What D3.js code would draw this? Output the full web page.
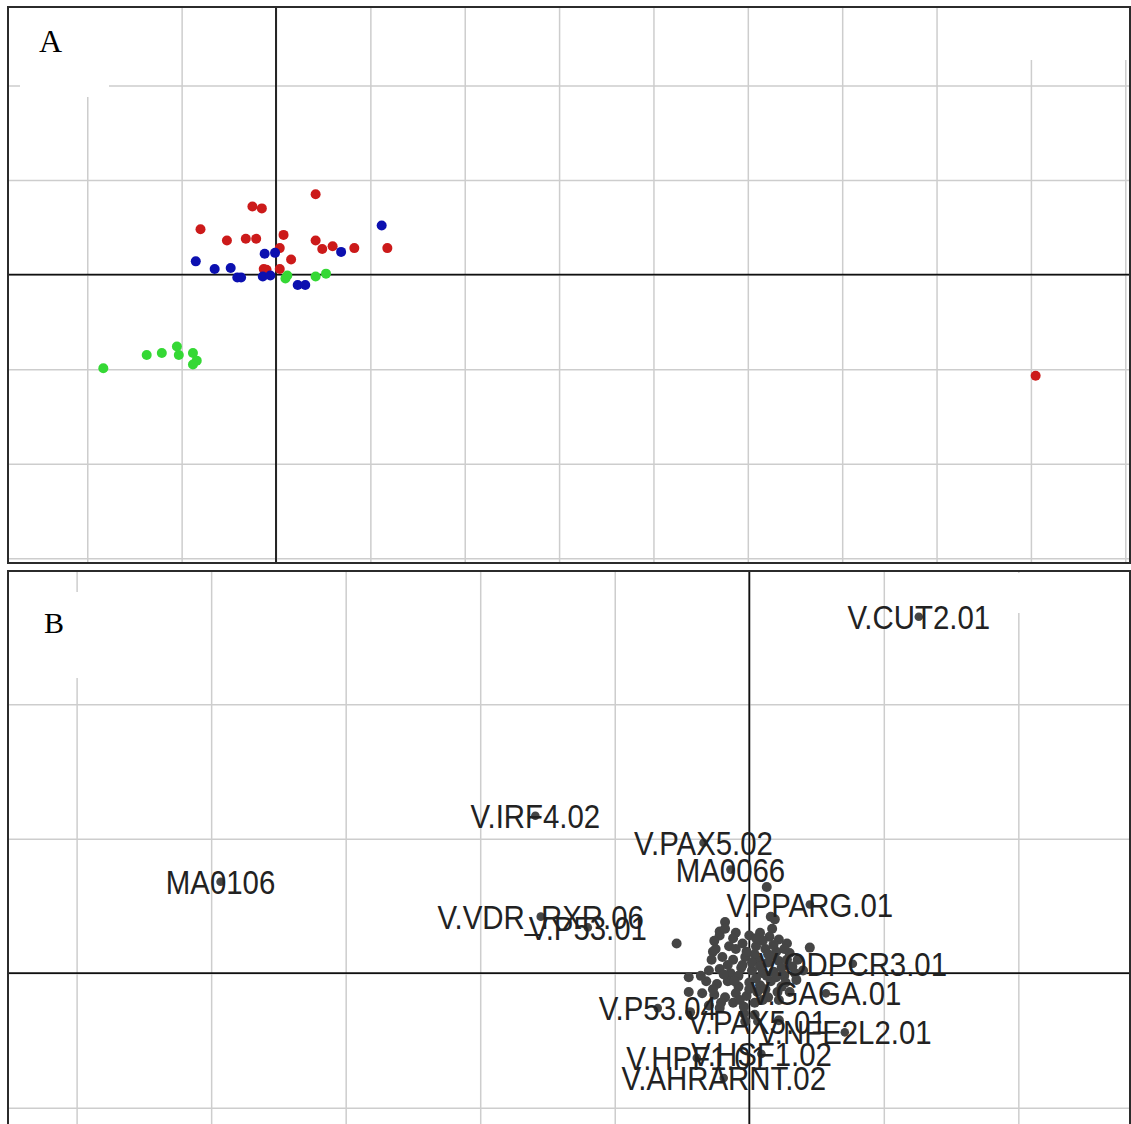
<!DOCTYPE html>
<html>
<head>
<meta charset="utf-8">
<script src="https://cdn.jsdelivr.net/npm/d3@7"></script>
<style>
  body { margin: 0; background: #fff; }
  svg { display: block; }
</style>
</head>
<body>
<div id="chart-container"></div>
<script>
// Panel A: sample scores, one array per group ([x, y] in axis units)
const redPoints = [
  [0.42, 0.85], [-0.25, 0.72], [-0.15, 0.70], [-0.80, 0.48], [-0.52, 0.36],
  [-0.32, 0.38], [-0.21, 0.38], [0.08, 0.42], [0.42, 0.36], [0.04, 0.28],
  [0.49, 0.27], [0.60, 0.30], [0.83, 0.28], [1.18, 0.28], [0.16, 0.16],
  [-0.13, 0.06], [-0.10, 0.05], [0.04, 0.06], [8.05, -1.07]
];
const bluePoints = [
  [1.12, 0.52], [-0.12, 0.22], [-0.01, 0.23], [0.69, 0.24], [-0.85, 0.14],
  [-0.65, 0.06], [-0.48, 0.07], [-0.41, -0.03], [-0.37, -0.03], [-0.14, -0.02],
  [-0.06, -0.01], [0.23, -0.11], [0.31, -0.11]
];
const greenPoints = [
  [0.10, -0.04], [0.12, -0.01], [0.42, -0.02], [0.53, 0.01], [-1.83, -0.99],
  [-1.37, -0.85], [-1.21, -0.83], [-1.05, -0.76], [-1.03, -0.85], [-0.88, -0.83],
  [-0.84, -0.91], [-0.88, -0.95]
];
const aTicksX = [-2, -1, 0, 1, 2, 3, 4, 5, 6, 7, 8, 9];
const aTicksY = [-3, -2, -1, 0, 1, 2];

// Panel B: labelled motifs
const motifNames = [
  "V.CUT2.01", "V.IRF4.02", "V.PAX5.02", "MA0066", "V.PPARG.01", "MA0106",
  "V.VDR_RXR.06", "V.P53.01", "V.ODPCR3.01", "V.GAGA.01", "V.P53.04",
  "V.PAX5.01", "V.NFE2L2.01", "V.HSF1.02", "V.HPF1.01", "V.AHRARNT.02"
];
const motifX = [1.26, -1.59, -0.34, -0.14, 0.45, -3.93, -1.55, -1.20, 0.77, 0.57, -0.68, 0.06, 0.71, 0.09, -0.39, -0.19];
const motifY = [2.65, 1.17, 0.97, 0.77, 0.51, 0.68, 0.42, 0.34, 0.07, -0.15, -0.26, -0.36, -0.44, -0.60, -0.63, -0.78];

// Panel B: unlabelled motifs (mostly the dense cloud near the origin)
const otherMotifs = [
  [0.13, 0.64], [-0.18, 0.38], [-0.22, 0.31], [-0.54, 0.22], [-0.27, 0.16],
  [0.16, 0.42], [0.19, 0.40], [0.17, 0.33], [0.45, 0.19], [-0.45, -0.03],
  [-0.45, -0.14], [-0.44, -0.29], [-0.04, -0.30], [0.04, -0.31], [0.22, -0.35],
  [-0.22, 0.28], [-0.18, 0.33], [-0.10, 0.30], [0.00, 0.28], [0.08, 0.30],
  [0.15, 0.27], [0.22, 0.25], [0.28, 0.22], [-0.25, 0.18], [-0.15, 0.20],
  [-0.05, 0.22], [0.05, 0.20], [0.12, 0.18], [0.20, 0.16], [0.30, 0.15],
  [0.36, 0.10], [-0.28, 0.10], [-0.20, 0.12], [-0.12, 0.10], [-0.03, 0.12],
  [0.06, 0.10], [0.14, 0.08], [0.22, 0.09], [0.32, 0.05], [0.40, 0.02],
  [-0.30, 0.02], [-0.22, 0.03], [-0.14, 0.00], [-0.06, 0.04], [0.02, 0.02],
  [0.10, 0.00], [0.18, 0.01], [0.26, -0.02], [0.35, -0.05], [-0.32, -0.06],
  [-0.24, -0.08], [-0.16, -0.06], [-0.08, -0.10], [0.00, -0.07], [0.08, -0.09],
  [0.16, -0.06], [0.24, -0.10], [0.30, -0.14], [-0.35, -0.15], [-0.26, -0.16],
  [-0.18, -0.18], [-0.10, -0.15], [-0.02, -0.17], [0.06, -0.14], [0.14, -0.18],
  [0.22, -0.20], [-0.30, -0.24], [-0.22, -0.26], [-0.12, -0.22], [-0.04, -0.25],
  [0.04, -0.22], [-0.05, 0.06], [0.04, 0.14], [-0.16, 0.06], [0.10, 0.24],
  [0.18, 0.13], [-0.08, -0.02], [0.12, -0.12], [0.20, -0.03], [-0.03, -0.36],
  [0.02, 0.08], [0.08, 0.05], [0.14, 0.14], [0.24, 0.04], [0.28, 0.10],
  [-0.10, 0.18], [-0.02, 0.16], [0.26, 0.18], [0.34, 0.00], [-0.19, -0.01],
  [-0.11, -0.06], [0.05, -0.04], [0.13, -0.02], [0.21, -0.14], [0.27, -0.07],
  [-0.27, -0.12], [-0.21, -0.22], [-0.07, -0.20], [0.00, -0.12], [0.10, -0.20],
  [-0.26, 0.24], [-0.12, 0.26], [0.05, 0.26], [0.18, 0.21], [-0.36, -0.02]
];
const bTicksX = [-5, -4, -3, -2, -1, 0, 1, 2];
const bTicksY = [-1, 0, 1, 2];

const width = 1131;
const height = 1124;

const svg = d3.select("#chart-container")
  .append("svg")
  .attr("width", width)
  .attr("height", height);

svg.append("rect").attr("width", width).attr("height", height).attr("fill", "#fff");

// panel boxes in pixels
const boxA = { left: 8, right: 1130, top: 7, bottom: 563 };
const boxB = { left: 8, right: 1130, top: 571, bottom: 1148 };

const xA = d3.scaleLinear().domain([-2.84, 9.05]).range([boxA.left, boxA.right]);
const yA = d3.scaleLinear().domain([-3.05, 2.83]).range([boxA.bottom, boxA.top]);
const xB = d3.scaleLinear().domain([-5.51, 2.83]).range([boxB.left, boxB.right]);
const yB = d3.scaleLinear().domain([-1.3, 2.99]).range([boxB.bottom, boxB.top]);

svg.append("defs").append("clipPath").attr("id", "clipB")
  .append("rect")
  .attr("x", boxB.left).attr("y", boxB.top)
  .attr("width", boxB.right - boxB.left).attr("height", boxB.bottom - boxB.top);

function drawGrid(g, x, y, box, xt, yt, masks) {
  g.append("g")
    .attr("transform", `translate(0,${box.bottom})`)
    .call(d3.axisBottom(x).tickValues(xt).tickSize(-(box.bottom - box.top)).tickFormat(""))
    .call(s => s.select(".domain").remove())
    .selectAll("line").attr("stroke", "#cdcdcd").attr("stroke-width", 1.5);

  g.append("g")
    .attr("transform", `translate(${box.left},0)`)
    .call(d3.axisLeft(y).tickValues(yt).tickSize(-(box.right - box.left)).tickFormat(""))
    .call(s => s.select(".domain").remove())
    .selectAll("line").attr("stroke", "#cdcdcd").attr("stroke-width", 1.5);

  // blank patches that hide parts of the grid
  g.selectAll(".mask")
    .data(masks)
    .enter().append("rect")
    .attr("x", d => d[0]).attr("y", d => d[1])
    .attr("width", d => d[2]).attr("height", d => d[3])
    .attr("fill", "#fff");

  // zero lines
  g.append("line")
    .attr("x1", x(0)).attr("x2", x(0))
    .attr("y1", box.top).attr("y2", box.bottom)
    .attr("stroke", "#111").attr("stroke-width", 1.8);
  g.append("line")
    .attr("x1", box.left).attr("x2", box.right)
    .attr("y1", y(0)).attr("y2", y(0))
    .attr("stroke", "#111").attr("stroke-width", 1.8);
}

function drawFrame(box) {
  svg.append("rect")
    .attr("x", box.left).attr("y", box.top)
    .attr("width", box.right - box.left).attr("height", box.bottom - box.top)
    .attr("fill", "none")
    .attr("stroke", "#2b2b2b")
    .attr("stroke-width", 2);
}

// ---- Panel A ----
const gA = svg.append("g");
drawGrid(gA, xA, yA, boxA, aTicksX, aTicksY, [[20, 8, 89, 89], [945, 8, 182, 52]]);

const groups = [
  { pts: redPoints, color: "#cc1a1a" },
  { pts: bluePoints, color: "#0c10b0" },
  { pts: greenPoints, color: "#35d835" }
];
groups.forEach(grp => {
  gA.selectAll(null)
    .data(grp.pts)
    .enter().append("circle")
    .attr("cx", d => xA(d[0]))
    .attr("cy", d => yA(d[1]))
    .attr("r", 5)
    .attr("fill", grp.color);
});

gA.append("text")
  .attr("x", 39).attr("y", 52)
  .attr("font-family", "'Liberation Serif', 'Times New Roman', serif")
  .attr("font-size", 32)
  .attr("fill", "#000")
  .text("A");

drawFrame(boxA);

// ---- Panel B ----
const gB = svg.append("g").attr("clip-path", "url(#clipB)");
drawGrid(gB, xB, yB, boxB, bTicksX, bTicksY, [[20, 592, 100, 86], [990, 573, 137, 40]]);

const motifs = motifNames.map((name, i) => ({ name, x: motifX[i], y: motifY[i] }));

gB.selectAll(".other")
  .data(otherMotifs)
  .enter().append("circle")
  .attr("cx", d => xB(d[0]))
  .attr("cy", d => yB(d[1]))
  .attr("r", 5)
  .attr("fill", "#454545");

gB.selectAll(".motif")
  .data(motifs)
  .enter().append("circle")
  .attr("cx", d => xB(d.x))
  .attr("cy", d => yB(d.y))
  .attr("r", 4.3)
  .attr("fill", "#454545");

gB.selectAll(".label")
  .data(motifs)
  .enter().append("text")
  .attr("transform", d => `translate(${xB(d.x)},${yB(d.y)}) scale(0.98,1.12)`)
  .attr("dy", "0.36em")
  .attr("text-anchor", "middle")
  .attr("font-family", "'Liberation Sans', Arial, sans-serif")
  .attr("font-size", 30)
  .attr("fill", "#222")
  .text(d => d.name);

gB.append("text")
  .attr("x", 44).attr("y", 633)
  .attr("font-family", "'Liberation Serif', 'Times New Roman', serif")
  .attr("font-size", 30)
  .attr("fill", "#000")
  .text("B");

drawFrame(boxB);
</script>
</body>
</html>
